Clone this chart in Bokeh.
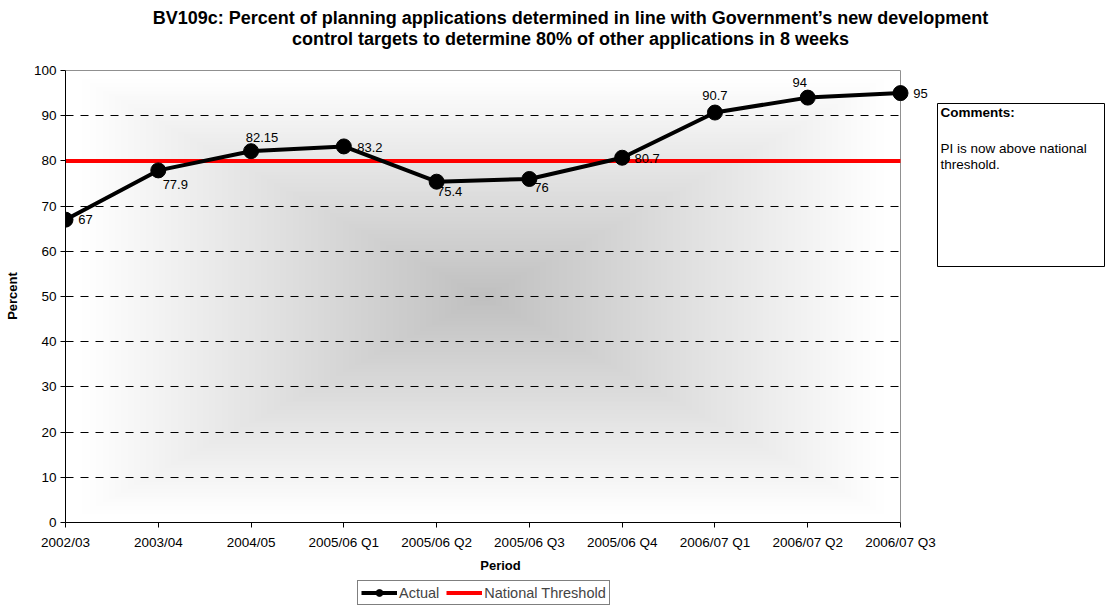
import numpy as np
from bokeh.plotting import figure
from bokeh.layouts import column, row
from bokeh.models import (ColumnDataSource, Range1d, FixedTicker, Legend, LegendItem, Label,
                          BoxAnnotation)
from bokeh.core.properties import value
from bokeh.embed import file_html
from bokeh.resources import INLINE

# ---------------- data ----------------
PERIODS = ["2002/03", "2003/04", "2004/05", "2005/06 Q1", "2005/06 Q2",
           "2005/06 Q3", "2005/06 Q4", "2006/07 Q1", "2006/07 Q2", "2006/07 Q3"]
ACTUAL = [67, 77.9, 82.15, 83.2, 75.4, 76, 80.7, 90.7, 94, 95]
ACTUAL_LABELS = ["67", "77.9", "82.15", "83.2", "75.4", "76", "80.7", "90.7", "94", "95"]
THRESHOLD = [80, 80, 80, 80, 80, 80, 80, 80, 80, 80]
Y_TICKS = [0, 10, 20, 30, 40, 50, 60, 70, 80, 90, 100]

TITLE_LINES = ["BV109c: Percent of planning applications determined in line with Government\u2019s new development",
               "control targets to determine 80% of other applications in 8 weeks"]
X_LABEL = "Period"
Y_LABEL = "Percent"
COMMENT_HEAD = "Comments:"
COMMENT_LINES = ["PI is now above national", "threshold."]
LEGEND_LABELS = ["Actual", "National Threshold"]

# label placement (pixel offsets of each value label from its point)
LABEL_OFFSETS = [(20, 0), (17, 14), (11, -14), (26, 1), (13, 10),
                 (12, 9), (25, 1), (0, -17), (-8, -15), (20, 0)]

FONT = "Liberation Sans"
W, H = 1106, 608
TITLE_H, LEGEND_H = 50, 32
MAIN_W = 936
MAIN_H = H - TITLE_H - LEGEND_H
PLOT_L, PLOT_R, PLOT_T, PLOT_B = 65, 900, 70, 522      # visible plot area (canvas px)
FRAME_R = 935                                            # frame extends right so "95" shows
BORDER_T = PLOT_T - TITLE_H - 1
BORDER_B = MAIN_H - (PLOT_B - TITLE_H)

N = len(PERIODS)
x_end = (N - 1) * (FRAME_R - PLOT_L) / (PLOT_R - PLOT_L)
y_end = 100 * (PLOT_B - PLOT_T + 1) / (PLOT_B - PLOT_T)

xs = list(range(N))
src = ColumnDataSource(dict(x=xs, y=ACTUAL, lbl=ACTUAL_LABELS,
                            dx=[o[0] for o in LABEL_OFFSETS],
                            dy=[o[1] for o in LABEL_OFFSETS]))
thr = ColumnDataSource(dict(x=xs, y=THRESHOLD))


def blank_fig(w, h, **kw):
    f = figure(width=w, height=h, output_backend="svg", toolbar_location=None,
               x_axis_location=None, y_axis_location=None, title_location=None,
               x_range=Range1d(0, 1), y_range=Range1d(0, 1), **kw)
    f.xgrid.visible = False
    f.ygrid.visible = False
    f.background_fill_color = "white"
    f.border_fill_color = "white"
    f.outline_line_color = None
    return f


# ---------------- title strip ----------------
tf = blank_fig(W, TITLE_H, min_border=0)
for i, line in enumerate(TITLE_LINES):
    tf.add_layout(Label(x=570, y=TITLE_H - (17 + 21 * i), x_units="screen", y_units="screen",
                        text=line, text_font=FONT, text_font_size="18px",
                        text_font_style="bold", text_align="center",
                        text_baseline="middle", text_color="black"))

# ---------------- main chart ----------------
p = figure(width=MAIN_W, height=MAIN_H, output_backend="svg", toolbar_location=None,
           title_location=None,
           x_range=Range1d(0, x_end), y_range=Range1d(0, y_end),
           min_border_left=PLOT_L, min_border_right=MAIN_W - FRAME_R,
           min_border_top=BORDER_T, min_border_bottom=BORDER_B)
p.background_fill_color = "white"
p.border_fill_color = "white"
p.outline_line_color = None

# background gradient (rectangular, from centre)
nx, ny = 400, 240
u = np.linspace(-1, 1, nx)[None, :]
v = np.linspace(-1, 1, ny)[:, None]
d = np.maximum(np.abs(u), np.abs(v))
t = np.clip(d / 0.96, 0, 1)
g = (192 + 63 * t).astype(np.uint32)
img = (np.uint32(255) << 24) | (g << 16) | (g << 8) | g
p.image_rgba(image=[img.astype(np.uint32)], x=0, y=0, dw=N - 1, dh=100, level="image")

# axes
p.xaxis.ticker = FixedTicker(ticks=xs)
p.xaxis.major_label_overrides = {i: s for i, s in enumerate(PERIODS)}
p.yaxis.ticker = FixedTicker(ticks=Y_TICKS)
p.xaxis.bounds = (0, N - 1)
p.yaxis.bounds = (0, 100)
for ax in (p.xaxis[0], p.yaxis[0]):
    ax.axis_line_color = "black"
    ax.axis_line_width = 1
    ax.major_tick_line_color = "black"
    ax.major_tick_out = 5
    ax.major_tick_in = 0
    ax.minor_tick_line_color = None
    ax.major_label_text_font = FONT
    ax.major_label_text_font_size = "13.5px"
    ax.major_label_text_color = "black"
    ax.axis_label_text_font = FONT
    ax.axis_label_text_font_size = "13px"
    ax.axis_label_text_font_style = "bold"
    ax.axis_label_text_color = "black"
p.xaxis.axis_label = X_LABEL
p.yaxis.axis_label = Y_LABEL
p.xaxis.major_label_standoff = 7
p.yaxis.major_label_standoff = 4
p.xaxis.axis_label_standoff = 5
p.yaxis.axis_label_standoff = 11

p.xgrid.grid_line_color = None
p.ygrid.ticker = FixedTicker(ticks=Y_TICKS[1:-1])
p.ygrid.grid_line_color = "black"
p.ygrid.grid_line_dash = "8 7"
p.ygrid.grid_line_width = 1

# blank strip right of the plot area, and the grey top/right plot border
p.quad(left=N - 1, right=x_end, bottom=0, top=y_end, fill_color="white", line_color=None)
p.segment(x0=[0, N - 1], y0=[100, 0], x1=[N - 1, N - 1], y1=[100, 100],
          line_color="#909090", line_width=1)

# series
p.line("x", "y", source=thr, line_color="#ff0000", line_width=4)
p.line("x", "y", source=src, line_color="black", line_width=4)
p.scatter("x", "y", source=src, size=15, marker="circle",
          fill_color="black", line_color="black")
p.text("x", "y", text="lbl", source=src, x_offset="dx", y_offset="dy",
       text_font=value(FONT), text_font_size="13px", text_color="black",
       text_align="center", text_baseline="middle")

# ---------------- comments box (same frame rows as the main chart) ----------------
BOX_L, BOX_R, BOX_T, BOX_B = 934, 1104, 103, 266
CM_W = W - MAIN_W
cm = blank_fig(CM_W, MAIN_H, min_border_left=0, min_border_right=0,
               min_border_top=BORDER_T, min_border_bottom=BORDER_B)
cm.add_layout(BoxAnnotation(left=max(BOX_L - MAIN_W, 1), right=BOX_R - MAIN_W,
                            top=PLOT_B - BOX_T, bottom=PLOT_B - BOX_B,
                            left_units="screen", right_units="screen",
                            top_units="screen", bottom_units="screen",
                            fill_color="white", fill_alpha=1,
                            line_color="black", line_width=1, line_alpha=1))
cm.add_layout(Label(x=4, y=PLOT_B - 112, x_units="screen", y_units="screen",
                    text=COMMENT_HEAD, text_font=FONT, text_font_size="13.5px",
                    text_font_style="bold", text_baseline="middle", text_color="black"))
for i, line in enumerate(COMMENT_LINES):
    cm.add_layout(Label(x=4, y=PLOT_B - (148 + 16 * i), x_units="screen", y_units="screen",
                        text=line, text_font=FONT, text_font_size="13.5px",
                        text_baseline="middle", text_color="black"))

# ---------------- legend strip ----------------
# the series are re-used here only so the legend can draw their sample glyphs;
# this strip's ranges keep the data itself out of view
lf = blank_fig(W, LEGEND_H, min_border=0)
l_line = lf.line("x", "y", source=src, line_color="black", line_width=4)
l_pts = lf.scatter("x", "y", source=src, size=15, marker="circle",
                   fill_color="black", line_color="black")
l_thr = lf.line("x", "y", source=thr, line_color="#ff0000", line_width=4)
legend = Legend(items=[LegendItem(label=LEGEND_LABELS[0], renderers=[l_line, l_pts]),
                       LegendItem(label=LEGEND_LABELS[1], renderers=[l_thr])],
                orientation="horizontal", location=(357, 3),
                border_line_color="black", border_line_width=1,
                background_fill_color="white",
                label_text_font=FONT, label_text_font_size="14.5px",
                glyph_width=36, glyph_height=17, label_height=17, label_standoff=2,
                spacing=7, padding=3, margin=0)
lf.add_layout(legend)

layout = column(tf, row(p, cm), lf)
open("out.html", "w").write(file_html(layout, INLINE))
